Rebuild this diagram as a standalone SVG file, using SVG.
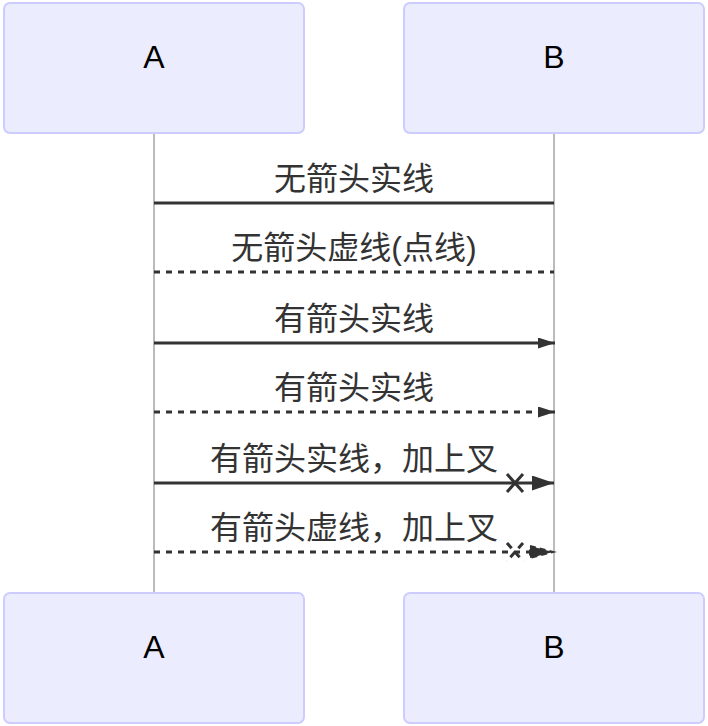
<svg xmlns="http://www.w3.org/2000/svg" width="708" height="726" viewBox="0 0 708 726">
<style>
.actor{fill:#ECECFF;stroke:#CCCCFF;stroke-width:2}
.atext{font-family:"Liberation Sans","Noto Sans CJK SC",sans-serif;font-size:32px;fill:#000;text-anchor:middle}
.life{stroke:#BBBBBB;stroke-width:2}
.msg{stroke:#333;stroke-width:3;fill:none}
.dash{stroke-dasharray:6,6}
.mtext{font-family:"Liberation Sans","Noto Sans CJK SC",sans-serif;font-size:32px;fill:#333;text-anchor:middle}
.head{fill:#333}
</style>
<defs>
<marker id="arrow" markerUnits="userSpaceOnUse" markerWidth="18" markerHeight="12" refX="17" refY="5.5" orient="auto" viewBox="0 0 18 12">
<path d="M0,0 L17,5.5 L0,11 z" fill="#333"/>
</marker>
<marker id="arrowBig" markerUnits="userSpaceOnUse" markerWidth="23" markerHeight="16" refX="22" refY="7.5" orient="auto" viewBox="0 0 23 16">
<path d="M0,0 L22,7.5 L0,15 z" fill="#333"/>
</marker>
</defs>
<g id="lifelines">
<line class="life" x1="154" y1="133" x2="154" y2="593"/>
<line class="life" x1="554" y1="133" x2="554" y2="593"/>
</g>
<g id="actor-A-top">
<rect class="actor" x="4" y="3" width="300" height="130" rx="6"/>
<text class="atext" x="154" y="68">A</text>
</g>
<g id="actor-B-top">
<rect class="actor" x="404" y="3" width="300" height="130" rx="6"/>
<text class="atext" x="554" y="68">B</text>
</g>
<g id="actor-A-bottom">
<rect class="actor" x="4" y="593" width="300" height="130" rx="6"/>
<text class="atext" x="154" y="658">A</text>
</g>
<g id="actor-B-bottom">
<rect class="actor" x="404" y="593" width="300" height="130" rx="6"/>
<text class="atext" x="554" y="658">B</text>
</g>
<g id="connectors">
<line class="msg" x1="154" y1="203" x2="554" y2="203"/>
<line class="msg dash" x1="154" y1="272" x2="554" y2="272"/>
<line class="msg" x1="154" y1="343" x2="555" y2="343" marker-end="url(#arrow)"/>
<line class="msg dash" x1="154" y1="412" x2="555" y2="412" marker-end="url(#arrow)"/>
<line class="msg" x1="154" y1="483" x2="554" y2="483" marker-end="url(#arrowBig)"/>
<path class="msg" d="M507,474 L523,492 M523,474 L507,492"/>
<line class="msg dash" x1="154" y1="552" x2="530" y2="552"/>
<path class="msg" d="M507,543 L523,561 M523,543 L507,561" style="stroke-dasharray:7,5"/>
<path class="head" d="M530,546 L553,552 L530,558 z" style="stroke:#333;stroke-width:2;stroke-dasharray:6,4"/>
</g>
<g id="labels">
<text class="mtext" x="354" y="190">无箭头实线</text>
<text class="mtext" x="354" y="259">无箭头虚线(点线)</text>
<text class="mtext" x="354" y="330">有箭头实线</text>
<text class="mtext" x="354" y="399">有箭头实线</text>
<text class="mtext" x="354" y="470">有箭头实线，加上叉</text>
<text class="mtext" x="354" y="539">有箭头虚线，加上叉</text>
</g>
</svg>
